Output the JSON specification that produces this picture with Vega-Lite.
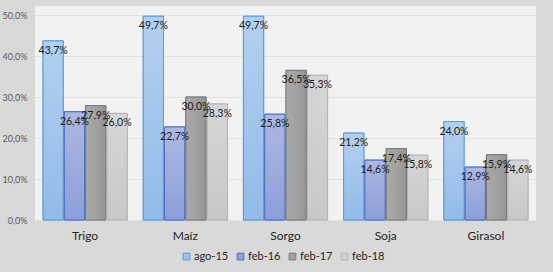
{
  "$schema": "https://vega.github.io/schema/vega-lite/v6.json",
  "autosize": "none",
  "width": 501,
  "height": 214,
  "padding": {"left": 35, "top": 6, "right": 17, "bottom": 52},
  "background": "#d9d9d9",
  "config": {
    "locale": {"number": {"decimal": ",", "thousands": ".", "grouping": [3], "currency": ["", " €"]}},
    "view": {"fill": "#f2f2f2", "stroke": null},
    "font": "Lato"
  },
  "data": {"values": [
    {"cultivo": "Trigo", "serie": "ago-15", "v": 0.437},
    {"cultivo": "Trigo", "serie": "feb-16", "v": 0.264},
    {"cultivo": "Trigo", "serie": "feb-17", "v": 0.279},
    {"cultivo": "Trigo", "serie": "feb-18", "v": 0.260},
    {"cultivo": "Maíz", "serie": "ago-15", "v": 0.497},
    {"cultivo": "Maíz", "serie": "feb-16", "v": 0.227},
    {"cultivo": "Maíz", "serie": "feb-17", "v": 0.300},
    {"cultivo": "Maíz", "serie": "feb-18", "v": 0.283},
    {"cultivo": "Sorgo", "serie": "ago-15", "v": 0.497},
    {"cultivo": "Sorgo", "serie": "feb-16", "v": 0.258},
    {"cultivo": "Sorgo", "serie": "feb-17", "v": 0.365},
    {"cultivo": "Sorgo", "serie": "feb-18", "v": 0.353},
    {"cultivo": "Soja", "serie": "ago-15", "v": 0.212},
    {"cultivo": "Soja", "serie": "feb-16", "v": 0.146},
    {"cultivo": "Soja", "serie": "feb-17", "v": 0.174},
    {"cultivo": "Soja", "serie": "feb-18", "v": 0.158},
    {"cultivo": "Girasol", "serie": "ago-15", "v": 0.240},
    {"cultivo": "Girasol", "serie": "feb-16", "v": 0.129},
    {"cultivo": "Girasol", "serie": "feb-17", "v": 0.159},
    {"cultivo": "Girasol", "serie": "feb-18", "v": 0.146}
  ]},
  "encoding": {
    "x": {
      "field": "cultivo", "type": "nominal", "sort": null,
      "scale": {"paddingInner": 0.16, "paddingOuter": 0.08},
      "axis": {"title": null, "labelAngle": 0, "domain": false, "ticks": false, "labelPadding": 10, "labelFontSize": 12, "labelColor": "#262626", "labelFont": "Lato"}
    },
    "xOffset": {"field": "serie", "type": "nominal", "scale": {"paddingInner": 0.05}},
    "y": {
      "field": "v", "type": "quantitative",
      "scale": {"domain": [0, 0.522], "nice": false},
      "axis": {"title": null, "values": [0, 0.1, 0.2, 0.3, 0.4, 0.5], "format": ".1%", "domain": false, "ticks": false, "labelPadding": 8, "labelFontSize": 9, "labelColor": "#595959", "gridColor": "#e2e2e2", "gridWidth": 1}
    }
  },
  "layer": [
    {
      "mark": {"type": "bar", "strokeWidth": 1},
      "encoding": {
        "color": {
          "field": "serie", "type": "nominal",
          "scale": {"domain": ["ago-15", "feb-16", "feb-17", "feb-18"], "range": ["#a2c4ea", "#8fa1db", "#a3a3a3", "#d0d0d0"]},
          "legend": {"title": null, "orient": "none", "legendX": 146, "legendY": 245, "direction": "horizontal", "symbolType": "square", "symbolSize": 45, "symbolStrokeWidth": 1, "symbolStrokeColor": "#8a8a8a", "labelFontSize": 11, "labelColor": "#262626", "columnPadding": 6, "labelOffset": 2}
        },
        "stroke": {
          "field": "serie", "type": "nominal",
          "scale": {"domain": ["ago-15", "feb-16", "feb-17", "feb-18"], "range": ["#5b9bd5", "#4a6fc4", "#7a7a7a", "#b4b4b4"]},
          "legend": null
        }
      }
    },
    {
      "mark": {"type": "bar", "strokeWidth": 1},
      "encoding": {
        "fill": {
          "condition": [
            {"test": "datum.serie === 'ago-15'", "value": {"gradient": "linear", "x1": 0, "y1": 0, "x2": 0, "y2": 1, "stops": [{"offset": 0, "color": "#b4d0f0"}, {"offset": 1, "color": "#92bbe8"}]}},
            {"test": "datum.serie === 'feb-16'", "value": {"gradient": "linear", "x1": 0, "y1": 0, "x2": 0, "y2": 1, "stops": [{"offset": 0, "color": "#aeb7e2"}, {"offset": 1, "color": "#8d9fd9"}]}},
            {"test": "datum.serie === 'feb-17'", "value": {"gradient": "linear", "x1": 0, "y1": 0, "x2": 1, "y2": 0, "stops": [{"offset": 0, "color": "#a9a9a9"}, {"offset": 0.5, "color": "#a2a2a2"}, {"offset": 1, "color": "#959595"}]}}
          ],
          "value": {"gradient": "linear", "x1": 0, "y1": 0, "x2": 0, "y2": 1, "stops": [{"offset": 0, "color": "#d6d6d6"}, {"offset": 1, "color": "#c8c8c8"}]}
        },
        "stroke": {
          "field": "serie", "type": "nominal",
          "scale": {"domain": ["ago-15", "feb-16", "feb-17", "feb-18"], "range": ["#5b9bd5", "#4a6fc4", "#7a7a7a", "#b4b4b4"]},
          "legend": null
        }
      }
    },
    {
      "mark": {"type": "text", "baseline": "middle", "dy": 10, "fontSize": 10.5, "color": "#1a1a1a"},
      "encoding": {
        "text": {"field": "v", "type": "quantitative", "format": ".1%"}
      }
    }
  ]
}
